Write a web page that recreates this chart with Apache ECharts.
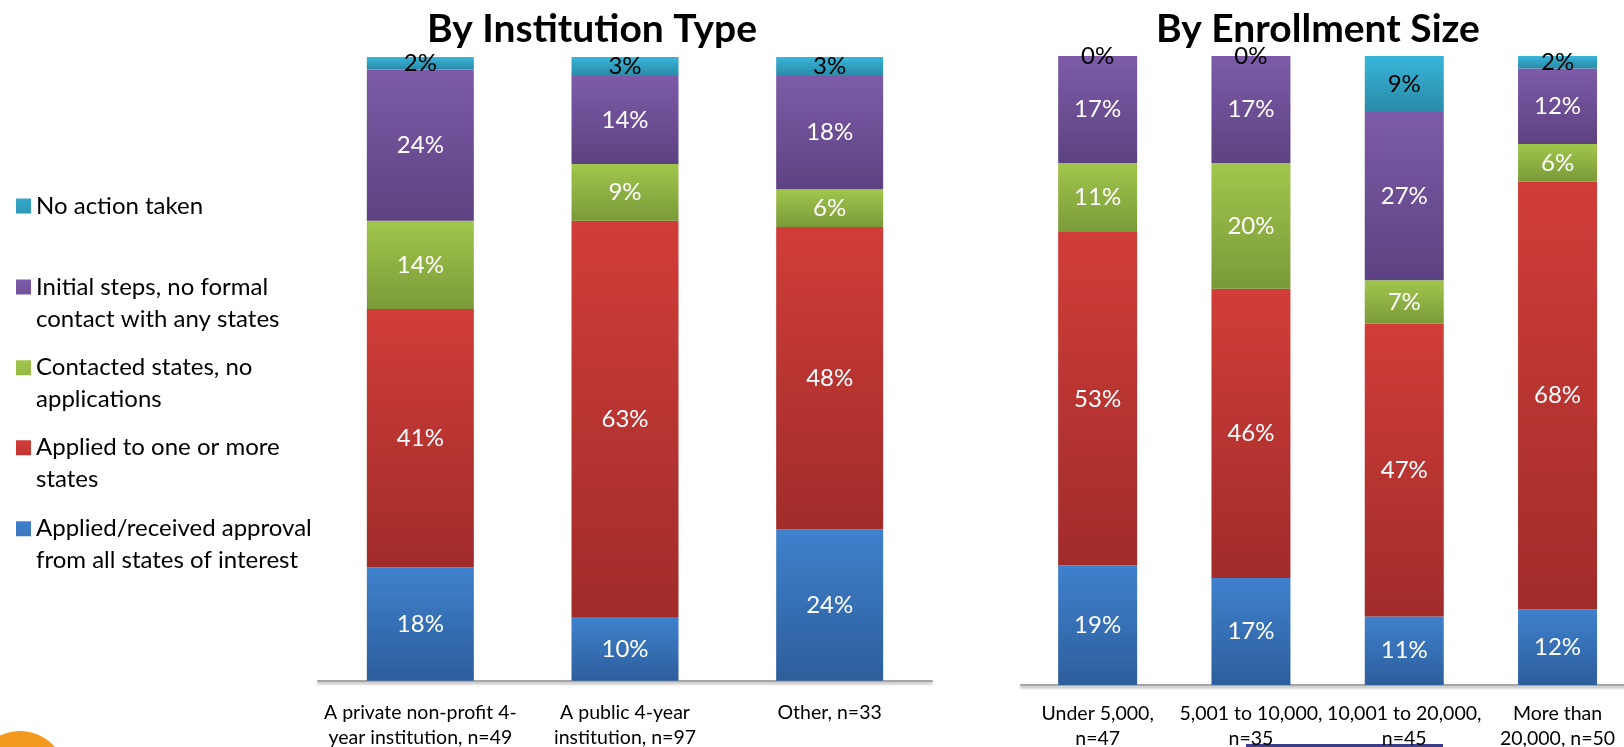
<!DOCTYPE html>
<html>
<head>
<meta charset="utf-8">
<script src="https://cdn.jsdelivr.net/npm/echarts@6/dist/echarts.min.js"></script>
<style>html,body{margin:0;padding:0;background:#fff;}#c{width:1624px;height:747px;}</style>
</head>
<body>
<div id="c"></div>
<script>
// ---- Data ----
const seriesNames = ['Applied/received approval from all states of interest', 'Applied to one or more states', 'Contacted states, no applications', 'Initial steps, no formal contact with any states', 'No action taken'];
const legendLabels = ['Applied/received approval\nfrom all states of interest', 'Applied to one or more\nstates', 'Contacted states, no\napplications', 'Initial steps, no formal\ncontact with any states', 'No action taken'];

const instCategories = ['A private non-profit 4-\nyear institution, n=49', 'A public 4-year\ninstitution, n=97', 'Other, n=33'];
const instApproved  = [18, 10, 24];
const instApplied   = [41, 63, 48];
const instContacted = [14, 9, 6];
const instInitial   = [24, 14, 18];
const instNoAction  = [2, 3, 3];

const sizeCategories = ['Under 5,000,\nn=47', '5,001 to 10,000,\nn=35', '10,001 to 20,000,\nn=45', 'More than\n20,000, n=50'];
const sizeApproved  = [19, 17, 11, 12];
const sizeApplied   = [53, 46, 47, 68];
const sizeContacted = [11, 20, 7, 6];
const sizeInitial   = [17, 17, 27, 12];
const sizeNoAction  = [0, 0, 9, 2];

const titles = ['By Institution Type', 'By Enrollment Size'];

// ---- Styles ----
const grads = [
  ['#3F81CD', '#2D5E9C'],
  ['#D13D39', '#A02C2A'],
  ['#A1C64C', '#7A9A39'],
  ['#7D5BA8', '#5D4282'],
  ['#38B5D9', '#2A8AA7']
];
function grad(i) {
  return { type: 'linear', x: 0, y: 0, x2: 0, y2: 1,
    colorStops: [{ offset: 0, color: grads[i][0] }, { offset: 1, color: grads[i][1] }] };
}

function normalize(groups) {
  // 100% stacked: each category's segments scaled to its total
  const n = groups[0].length;
  const totals = [];
  for (let j = 0; j < n; j++) { let s = 0; groups.forEach(g => s += g[j]); totals.push(s); }
  return groups.map(g => g.map((v, j) => ({ value: v / totals[j] * 100, raw: v })));
}

const instData = normalize([instApproved, instApplied, instContacted, instInitial, instNoAction]);
const sizeData = normalize([sizeApproved, sizeApplied, sizeContacted, sizeInitial, sizeNoAction]);

const FONT = 'Lato';
const series = [];
[instData, sizeData].forEach((dataSet, gi) => {
  dataSet.forEach((d, i) => {
    series.push({
      name: seriesNames[i],
      type: 'bar',
      stack: 'g' + gi,
      xAxisIndex: gi,
      yAxisIndex: gi,
      barWidth: gi === 0 ? 107 : 79,
      data: d,
      itemStyle: { color: grad(i) },
      label: {
        show: true,
        position: 'inside',
        formatter: p => p.data.raw + '%',
        color: i === 4 ? '#000' : '#fff',
        fontFamily: FONT,
        fontSize: 24
      },
      emphasis: { disabled: true }
    });
  });
});

const axisLineStyle = { color: '#A6A6A6', width: 2, shadowColor: 'rgba(0,0,0,0.35)', shadowBlur: 3, shadowOffsetY: 2 };

// icons: square aligned with the first text line
const ICON_TOP = 'path://M0,0L15,0L15,15L0,15Z M0,47L0.01,47';
const ICON_MID = 'path://M0,0L0.01,0 M0,16L15,16L15,31L0,31Z M0,47L0.01,47';
const legendTops = [507.7, 426.7, 346.7, 266, 177.5];
const legends = seriesNames.map((nm, i) => ({
  data: [{ name: nm, icon: i === 4 ? ICON_MID : ICON_TOP }],
  orient: 'vertical',
  left: 11,
  top: legendTops[i],
  itemWidth: 15,
  itemHeight: 47,
  formatter: () => legendLabels[i],
  textStyle: { fontFamily: FONT, fontSize: 24, lineHeight: 32, color: '#000' }
}));

const chart = echarts.init(document.getElementById('c'), null, { renderer: 'canvas' });
chart.setOption({
  backgroundColor: '#fff',
  animation: false,
  title: [
    { text: titles[0], left: 587, top: 5, textAlign: 'center',
      textStyle: { fontFamily: FONT, fontWeight: 'bold', fontSize: 39, color: '#000' } },
    { text: titles[1], left: 1313, top: 5, textAlign: 'center',
      textStyle: { fontFamily: FONT, fontWeight: 'bold', fontSize: 39, color: '#000' } }
  ],
  legend: legends,
  grid: [
    { left: 318, width: 614, top: 57, height: 623.7, outerBoundsMode: 'none', containLabel: false },
    { left: 1021, width: 613.2, top: 56, height: 629, outerBoundsMode: 'none', containLabel: false }
  ],
  xAxis: [
    { type: 'category', gridIndex: 0, data: instCategories,
      axisLine: { show: true, lineStyle: axisLineStyle }, axisTick: { show: false },
      axisLabel: { fontFamily: FONT, fontSize: 19.5, lineHeight: 25, color: '#000', margin: 20, interval: 0 } },
    { type: 'category', gridIndex: 1, data: sizeCategories,
      axisLine: { show: true, lineStyle: axisLineStyle }, axisTick: { show: false },
      axisLabel: { fontFamily: FONT, fontSize: 19.5, lineHeight: 25, color: '#000', margin: 16, interval: 0 } }
  ],
  yAxis: [
    { type: 'value', gridIndex: 0, min: 0, max: 100, show: false },
    { type: 'value', gridIndex: 1, min: 0, max: 100, show: false }
  ],
  series: series,
  graphic: [
    // slide decorations peeking in at the bottom
    { type: 'circle', shape: { cx: 20, cy: 777, r: 46 }, style: { fill: '#F39A1F' }, silent: true },
    { type: 'rect', shape: { x: 1246, y: 744, width: 197, height: 3 }, style: { fill: '#3B3D8C' }, silent: true }
  ]
});
</script>
</body>
</html>
